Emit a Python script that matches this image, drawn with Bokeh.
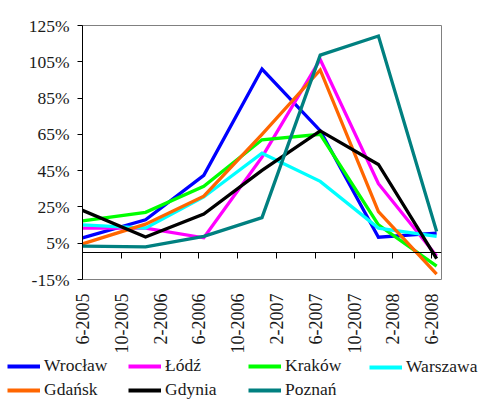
from bokeh.plotting import figure
from bokeh.models import LinearAxis, FixedTicker, Range1d, Legend, LegendItem
from bokeh.layouts import column
from bokeh.embed import file_html
from bokeh.resources import INLINE
import math

# ---- data ----
months = [0, 6.5, 12.5, 18.5, 24.5, 30.5, 36.5]   # months since 6-2005
x_ticks = [0, 4, 8, 12, 16, 20, 24, 28, 32, 36]
x_tick_labels = ["6-2005", "10-2005", "2-2006", "6-2006", "10-2006",
                 "2-2007", "6-2007", "10-2007", "2-2008", "6-2008"]
y_ticks = [-15, 5, 25, 45, 65, 85, 105, 125]
y_tick_labels = ["-15%", "5%", "25%", "45%", "65%", "85%", "105%", "125%"]

names = ["Wrocław", "Łódź", "Kraków", "Warszawa", "Gdańsk", "Gdynia", "Poznań"]
colors = ["#0000ff", "#ff00ff", "#00ff00", "#00ffff", "#ff6600", "#000000", "#008080"]
wroclaw = [7.9, 17.9, 42.4, 101.0, 67.0, 8.3, 10.6]
lodz = [13.3, 13.3, 8.0, 52.4, 106.3, 37.8, -2.0]
krakow = [17.3, 22.0, 36.4, 62.0, 65.0, 15.1, -7.6]
warszawa = [15.1, 13.3, 30.5, 54.6, 39.1, 13.3, 8.8]
gdansk = [4.6, 15.5, 30.9, 65.0, 100.5, 22.4, -12.1]
gdynia = [23.1, 8.4, 21.1, 45.1, 66.9, 48.4, -3.5]
poznan = [3.4, 3.0, 8.8, 19.1, 108.7, 119.2, 11.5]
series = [wroclaw, lodz, krakow, warszawa, gdansk, gdynia, poznan]

FONT = "Liberation Serif"
TXT = "#1a1a1a"
LW = 3.3

p = figure(width=500, height=356, output_backend="svg", toolbar_location=None,
           x_range=Range1d(0, 37), y_range=Range1d(-15, 125),
           x_axis_type=None, y_axis_type=None,
           min_border_left=82, min_border_right=59, min_border_top=25,
           min_border_bottom=74)
p.background_fill_color = "white"
p.border_fill_color = "white"
p.outline_line_color = "#808080"
p.outline_line_width = 1

# y axis
yaxis = LinearAxis(ticker=FixedTicker(ticks=y_ticks),
                   major_label_overrides={t: l for t, l in zip(y_ticks, y_tick_labels)})
yaxis.axis_line_color = "black"
yaxis.major_tick_line_color = "black"
yaxis.major_tick_out = 5
yaxis.major_tick_in = 0
yaxis.minor_tick_line_color = None
yaxis.major_label_standoff = 8
yaxis.major_label_text_font = FONT
yaxis.major_label_text_font_size = "17.5px"
yaxis.major_label_text_color = TXT
p.add_layout(yaxis, "left")

# x labels axis (at bottom)
xlab = LinearAxis(ticker=FixedTicker(ticks=x_ticks),
                  major_label_overrides={t: l for t, l in zip(x_ticks, x_tick_labels)})
xlab.axis_line_color = None
xlab.major_tick_line_color = None
xlab.minor_tick_line_color = None
xlab.major_tick_out = 0
xlab.major_tick_in = 0
xlab.major_label_orientation = math.pi / 2
xlab.major_label_standoff = 14
xlab.major_label_text_font = FONT
xlab.major_label_text_font_size = "18px"
xlab.major_label_text_color = TXT
p.add_layout(xlab, "below")

# zero-crossing axis line with downward ticks
xzero = LinearAxis(ticker=FixedTicker(ticks=x_ticks), fixed_location=0)
xzero.axis_line_color = "black"
xzero.major_tick_line_color = "black"
xzero.major_tick_out = 0
xzero.major_tick_in = 6
xzero.minor_tick_line_color = None
xzero.major_label_text_alpha = 0
xzero.major_label_text_font_size = "1px"
xzero.major_label_standoff = 0
p.add_layout(xzero, "above")

# grid
p.ygrid.ticker = FixedTicker(ticks=y_ticks)
p.ygrid.grid_line_color = "#333333"
p.ygrid.grid_line_width = 1
p.xgrid.grid_line_color = None

for name, col, vals in zip(names, colors, series):
    p.line(months, vals, line_color=col, line_width=LW, line_join="miter")

# legend panel (separate strip below the chart)
lg = figure(width=500, height=60, output_backend="svg", toolbar_location=None,
            x_range=Range1d(0, 1), y_range=Range1d(0, 1),
            x_axis_type=None, y_axis_type=None,
            min_border_left=0, min_border_right=0, min_border_top=0, min_border_bottom=0)
try:
    lg.frame_align = False
except Exception:
    pass
lg.outline_line_color = None
lg.xgrid.grid_line_color = None
lg.ygrid.grid_line_color = None
lg.background_fill_color = "white"
lg.border_fill_color = "white"

rend = {}
for name, col, vals in zip(names, colors, series):
    rend[name] = lg.line(months, vals, line_color=col, line_width=4.2, visible=False)

legend_columns = [["Wrocław", "Gdańsk"], ["Łódź", "Gdynia"], ["Kraków", "Poznań"], ["Warszawa"]]
legend_x = [7, 128, 248, 369]
for cols, lx in zip(legend_columns, legend_x):
    n = len(cols)
    h = n * 20 + (n - 1) * 3
    leg = Legend(items=[LegendItem(label=nm, renderers=[rend[nm]]) for nm in cols],
                 location=(lx, 60 - 1 - h), orientation="vertical")
    leg.glyph_width = 33
    leg.glyph_height = 20
    leg.label_height = 20
    leg.label_width = 20
    leg.label_standoff = 4
    leg.spacing = 3
    leg.padding = 0
    leg.margin = 0
    leg.border_line_color = None
    leg.background_fill_alpha = 0
    leg.inactive_fill_alpha = 0
    leg.label_text_font = FONT
    leg.label_text_font_size = "17.5px"
    leg.label_text_color = TXT
    lg.add_layout(leg, "center")

layout = column(p, lg)
open("out.html", "w").write(file_html(layout, INLINE))
